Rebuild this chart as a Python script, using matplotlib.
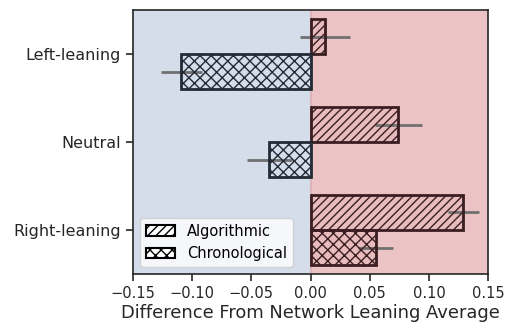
import numpy as np
import matplotlib.pyplot as plt
from matplotlib.patches import Patch

# grupos de liderança política e diferenças médias por tipo de timeline
categorias = ["Left-leaning", "Neutral", "Right-leaning"]
algoritmico = [0.012, 0.074, 0.129]
algoritmico_err = [0.021, 0.020, 0.013]
cronologico = [-0.109, -0.035, 0.055]
cronologico_err = [0.017, 0.019, 0.015]

azul = "#d5dcea"
vermelho = "#ecc3c4"

plt.rcParams["font.family"] = "DejaVu Sans"
plt.rcParams["hatch.linewidth"] = 1.0

fig, ax = plt.subplots(figsize=(5.07, 3.22), dpi=100)
fig.subplots_adjust(left=0.262, right=0.963, top=0.968, bottom=0.149)

ax.axvspan(-0.15, 0.0, color=azul, zorder=0)
ax.axvspan(0.0, 0.15, color=vermelho, zorder=0)
ax.axvline(0.0, color="#dcb3b8", lw=1.5, zorder=0.5)

y = np.arange(len(categorias))
h = 0.4

def barras(valores, erros, offset, hatch):
    for yi, v, e in zip(y, valores, erros):
        borda = "#3a1e22" if v >= 0 else "#222a36"
        face = "#e6b4b6" if v >= 0 else azul
        ax.barh(yi + offset, v, height=h, color=face, alpha=0.5, zorder=1)
        ax.errorbar(v, yi + offset, xerr=e, color="#707070", lw=2, zorder=2)
        ax.barh(yi + offset, v, height=h, fill=False, edgecolor=borda,
                hatch=hatch, lw=2, zorder=3)

barras(algoritmico, algoritmico_err, -h / 2, "////")
barras(cronologico, cronologico_err, h / 2, "xxx")

ax.set_yticks(y)
ax.set_yticklabels(categorias, fontsize=11.5, color="#262626")
ax.set_ylim(2.5, -0.5)
ax.set_xlim(-0.15, 0.15)
ax.set_xticks(np.arange(-0.15, 0.151, 0.05))
ax.tick_params(axis="x", labelsize=10.5, colors="#262626")
ax.tick_params(axis="both", length=5, width=1.2, color="#262626")
ax.set_xlabel("Difference From Network Leaning Average", fontsize=12.9, color="#262626", labelpad=2)
for s in ax.spines.values():
    s.set_linewidth(1.2)
    s.set_color("#262626")

handles = [Patch(facecolor="white", edgecolor="black", hatch="////", lw=1.5, label="Algorithmic"),
           Patch(facecolor="white", edgecolor="black", hatch="xxx", lw=1.5, label="Chronological")]
ax.legend(handles=handles, loc="lower left", fontsize=10.5, framealpha=0.8,
          handlelength=2.0, handletextpad=0.8, borderaxespad=0.5)

fig.savefig("out.png", dpi=100)
